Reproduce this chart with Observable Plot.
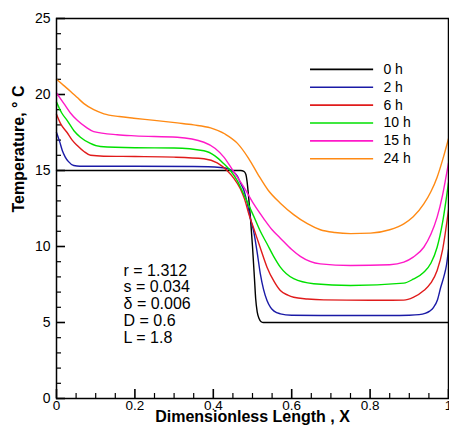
<!DOCTYPE html>
<html><head><meta charset="utf-8">
<script src="https://cdn.jsdelivr.net/npm/d3@7"></script>
<script src="https://cdn.jsdelivr.net/npm/@observablehq/plot@0.6"></script>
<style>body{margin:0;background:#fff}</style>
</head><body><div id="chart"></div>
<script>
const seriesNames = ["0 h", "2 h", "6 h", "10 h", "15 h", "24 h"];
const seriesColors = ["#000000", "#1a1aa6", "#e01b1b", "#00e000", "#ff19c8", "#ff8a14"];

const x0h = [0, 0.47, 0.478, 0.483, 0.486, 0.49, 0.495, 0.5, 0.505, 0.508, 0.512, 0.517, 0.522, 0.528, 1];
const t0h = [15, 15, 14.95, 14.75, 14.3, 13.3, 11.8, 10.0, 7.9, 6.6, 5.7, 5.25, 5.05, 5.0, 5.0];

const x2h = [0, 0.008, 0.015, 0.022, 0.03, 0.044, 0.06, 0.2, 0.35, 0.418, 0.44, 0.452, 0.462, 0.469, 0.478, 0.487, 0.495, 0.503, 0.512, 0.52, 0.528, 0.537, 0.546, 0.555, 0.571, 0.6, 0.7, 0.85, 0.9, 0.925, 0.94, 0.952, 0.962, 0.972, 0.98, 0.988, 0.995, 1];
const t2h = [17.5, 16.9, 16.3, 15.9, 15.6, 15.33, 15.28, 15.28, 15.26, 15.2, 15.1, 14.9, 14.6, 14.2, 13.7, 12.8, 11.8, 11.0, 9.6, 8.2, 7.2, 6.45, 6.0, 5.75, 5.57, 5.48, 5.46, 5.46, 5.48, 5.52, 5.6, 5.75, 6.0, 6.5, 7.3, 8.0, 8.8, 9.8];

const x6h = [0, 0.01, 0.027, 0.04, 0.053, 0.07, 0.087, 0.12, 0.2, 0.3, 0.376, 0.41, 0.435, 0.452, 0.469, 0.48, 0.491, 0.503, 0.52, 0.537, 0.555, 0.571, 0.59, 0.605, 0.64, 0.682, 0.8, 0.886, 0.91, 0.937, 0.955, 0.971, 0.985, 1];
const t6h = [18.7, 18.1, 17.5, 17.0, 16.64, 16.25, 16.0, 15.94, 15.92, 15.88, 15.77, 15.5, 15.0, 14.5, 13.8, 13.1, 12.1, 11.2, 9.9, 8.64, 7.7, 7.1, 6.8, 6.66, 6.55, 6.49, 6.46, 6.47, 6.65, 7.1, 7.6, 8.42, 9.8, 12.4];

const x10h = [0, 0.013, 0.027, 0.045, 0.061, 0.085, 0.112, 0.2, 0.3, 0.376, 0.405, 0.427, 0.445, 0.461, 0.48, 0.503, 0.52, 0.537, 0.555, 0.571, 0.605, 0.656, 0.75, 0.886, 0.91, 0.937, 0.955, 0.971, 0.985, 1];
const t10h = [19.5, 18.8, 18.3, 17.6, 17.19, 16.8, 16.58, 16.5, 16.48, 16.3, 15.95, 15.44, 14.95, 14.34, 13.3, 12.0, 11.0, 10.18, 9.3, 8.64, 7.88, 7.55, 7.43, 7.59, 7.85, 8.31, 8.9, 9.95, 11.6, 14.2];

const x15h = [0, 0.019, 0.035, 0.053, 0.075, 0.095, 0.155, 0.2, 0.308, 0.376, 0.405, 0.427, 0.45, 0.478, 0.503, 0.529, 0.55, 0.571, 0.6, 0.622, 0.673, 0.75, 0.85, 0.886, 0.91, 0.937, 0.955, 0.971, 0.985, 1];
const t15h = [20.1, 19.4, 18.8, 18.3, 17.85, 17.56, 17.35, 17.28, 17.19, 16.86, 16.45, 15.88, 15.0, 13.9, 12.8, 11.82, 11.1, 10.55, 9.8, 9.35, 8.86, 8.75, 8.8, 8.97, 9.3, 9.95, 10.8, 11.93, 13.4, 15.5];

const x24h = [0, 0.018, 0.036, 0.053, 0.07, 0.095, 0.121, 0.16, 0.197, 0.25, 0.308, 0.35, 0.393, 0.43, 0.461, 0.49, 0.515, 0.54, 0.571, 0.605, 0.64, 0.673, 0.71, 0.75, 0.801, 0.85, 0.886, 0.91, 0.937, 0.955, 0.971, 0.985, 1];
const t24h = [21.0, 20.6, 20.2, 19.8, 19.4, 19.0, 18.73, 18.55, 18.44, 18.3, 18.13, 18.0, 17.8, 17.4, 16.8, 15.8, 14.7, 13.7, 12.85, 12.1, 11.5, 11.1, 10.92, 10.85, 10.88, 11.1, 11.49, 11.95, 12.8, 13.6, 14.56, 15.7, 17.1];

const xMajorTicks = [0, 0.2, 0.4, 0.6, 0.8, 1];
const xMinorTicks = [0.05, 0.1, 0.15, 0.25, 0.3, 0.35, 0.45, 0.5, 0.55, 0.65, 0.7, 0.75, 0.85, 0.9, 0.95];
const yMajorTicks = [0, 5, 10, 15, 20, 25];
const yMinorTicks = [1, 2, 3, 4, 6, 7, 8, 9, 11, 12, 13, 14, 16, 17, 18, 19, 21, 22, 23, 24];
const paramLines = ["r = 1.312", "s = 0.034", "δ = 0.006", "D = 0.6", "L = 1.8"];
const xTitle = "Dimensionless Length , X";
const yTitle = "Temperature, ° C";

const W = 449, H = 432, mL = 56, mR = 1, mT = 18, mB = 34;
const frameW = W - mL - mR, frameH = H - mT - mB;
const majorLen = 9, minorLen = 5;

const xs = [x0h, x2h, x6h, x10h, x15h, x24h];
const ts = [t0h, t2h, t6h, t10h, t15h, t24h];
const rows = [];
seriesNames.forEach((name, i) => xs[i].forEach((x, j) => rows.push({series: name, x, t: ts[i][j]})));
const legendRows = seriesNames.map((s, i) => ({series: s, y: 21.65 - i * 1.175}));
const paramRows = paramLines.map((s, i) => ({text: s, y: 8.42 - i * 1.1}));

const chart = Plot.plot({
  width: W, height: H,
  marginLeft: mL, marginRight: mR, marginTop: mT, marginBottom: mB,
  style: {fontFamily: "'Liberation Sans', Arial, sans-serif", fontSize: "14px", background: "white", color: "black"},
  x: {domain: [0, 1]},
  y: {domain: [0, 25]},
  color: {domain: seriesNames, range: seriesColors},
  marks: [
    Plot.axisX({ticks: xMajorTicks, tickSize: 0, tickPadding: 2, tickFormat: d => String(d), label: null, fontSize: 13.5}),
    Plot.axisY({ticks: yMajorTicks, tickSize: 0, tickPadding: 6, tickFormat: d => String(d), label: null, fontSize: 14}),
    Plot.tickX(xMajorTicks, {x: d => d, insetTop: frameH - majorLen, stroke: "black", strokeWidth: 1.6}),
    Plot.tickX(xMinorTicks, {x: d => d, insetTop: frameH - minorLen, stroke: "black", strokeWidth: 1.2}),
    Plot.tickY(yMajorTicks, {y: d => d, insetRight: frameW - majorLen, stroke: "black", strokeWidth: 1.6}),
    Plot.tickY(yMinorTicks, {y: d => d, insetRight: frameW - minorLen, stroke: "black", strokeWidth: 1.2}),
    Plot.line(rows, {x: "x", y: "t", z: "series", stroke: "series", curve: "monotone-x", strokeWidth: 1.4}),
    Plot.ruleY(legendRows, {y: "y", x1: 0.648, x2: 0.809, stroke: "series", strokeWidth: 1.6}),
    Plot.text(legendRows, {x: 0.834, y: "y", text: "series", textAnchor: "start", fontSize: 14, fill: "black"}),
    Plot.text(paramRows, {x: 0.171, y: "y", text: "text", textAnchor: "start", fontSize: 16, fill: "black"}),
    Plot.text([xTitle], {frameAnchor: "bottom", dy: 23, fontSize: 16, fontWeight: "bold", fill: "black"}),
    Plot.text([yTitle], {frameAnchor: "left", dx: -38, dy: 4, rotate: -90, fontSize: 16, fontWeight: "bold", fill: "black"}),
    Plot.frame({stroke: "black", strokeWidth: 1.5})
  ]
});
document.getElementById("chart").appendChild(chart);
</script>
</body></html>
